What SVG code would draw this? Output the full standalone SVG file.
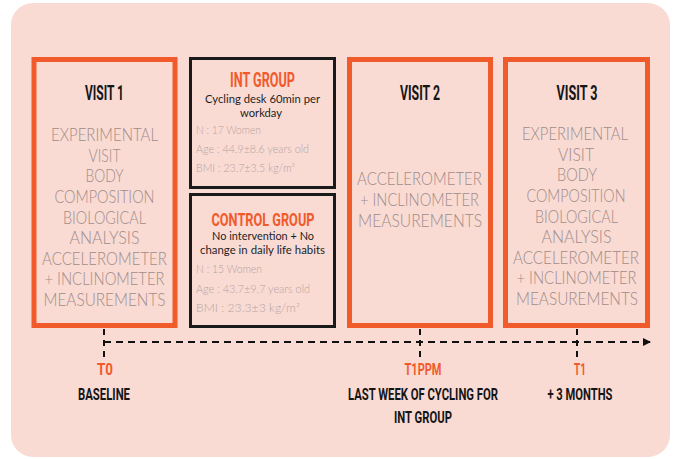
<svg xmlns="http://www.w3.org/2000/svg" width="675" height="459" viewBox="0 0 675 459">
<defs>
<style>
.bg{fill:#F9DBD4}
.vbox{fill:none;stroke:#F15A2B;stroke-width:5}
.gbox{fill:none;stroke:#1a1a1a;stroke-width:3}
.title{font-family:Roboto,"Liberation Sans",sans-serif;font-weight:700;fill:#151515;text-anchor:middle}
.otitle{font-family:Roboto,"Liberation Sans",sans-serif;font-weight:700;fill:#F15A2B;text-anchor:middle}
.light{font-family:Lato,"Open Sans",sans-serif;font-weight:300;font-size:18px;fill:#a08c88;text-anchor:middle}
.desc{font-family:Lato,"Open Sans",sans-serif;font-weight:400;font-size:11.5px;fill:#1e1e1e;text-anchor:middle}
.stat{font-family:Lato,"Open Sans",sans-serif;font-weight:300;font-size:11px;fill:#b5a39f}
.dash{stroke:#111;stroke-width:2;fill:none}
</style>
<marker id="arrow" viewBox="0 0 8 8" refX="7" refY="4" markerWidth="8" markerHeight="8" markerUnits="userSpaceOnUse" orient="auto">
<path d="M0,0 L8,4 L0,8 z" fill="#111"/>
</marker>
</defs>
<rect class="bg" x="11" y="3" width="659" height="454" rx="22"/>

<g id="visit1">
<rect class="vbox" x="34" y="59.5" width="141" height="266"/>
<text class="title" x="104.5" y="100" font-size="21" textLength="39" lengthAdjust="spacingAndGlyphs">VISIT 1</text>
<text class="light" x="104.5" y="141" textLength="107" lengthAdjust="spacingAndGlyphs">EXPERIMENTAL</text>
<text class="light" x="104.5" y="161.6" textLength="32" lengthAdjust="spacingAndGlyphs">VISIT</text>
<text class="light" x="104.5" y="182.3" textLength="38" lengthAdjust="spacingAndGlyphs">BODY</text>
<text class="light" x="104.5" y="202.9" textLength="100" lengthAdjust="spacingAndGlyphs">COMPOSITION</text>
<text class="light" x="104.5" y="223.5" textLength="83" lengthAdjust="spacingAndGlyphs">BIOLOGICAL</text>
<text class="light" x="104.5" y="244.1" textLength="70" lengthAdjust="spacingAndGlyphs">ANALYSIS</text>
<text class="light" x="104.5" y="264.8" textLength="125" lengthAdjust="spacingAndGlyphs">ACCELEROMETER</text>
<text class="light" x="104.5" y="285.4" textLength="120" lengthAdjust="spacingAndGlyphs">+ INCLINOMETER</text>
<text class="light" x="104.5" y="306" textLength="122" lengthAdjust="spacingAndGlyphs">MEASUREMENTS</text>
</g>

<g id="int-group">
<rect class="gbox" x="190.5" y="58.5" width="144" height="129"/>
<text class="otitle" x="262.5" y="86.5" font-size="19.5" textLength="65" lengthAdjust="spacingAndGlyphs">INT GROUP</text>
<text class="desc" x="262.5" y="103" textLength="115" lengthAdjust="spacingAndGlyphs">Cycling desk 60min per</text>
<text class="desc" x="261" y="116.5" textLength="42" lengthAdjust="spacingAndGlyphs">workday</text>
<text class="stat" x="196" y="133.5" textLength="65" lengthAdjust="spacingAndGlyphs">N : 17 Women</text>
<text class="stat" x="196" y="153" textLength="113" lengthAdjust="spacingAndGlyphs">Age : 44.9±8.6 years old</text>
<text class="stat" x="196" y="171.5" textLength="99" lengthAdjust="spacingAndGlyphs">BMI : 23.7±3.5 kg/m²</text>
</g>

<g id="control-group">
<rect class="gbox" x="190.5" y="194.5" width="144" height="132"/>
<text class="otitle" x="263" y="225.5" font-size="18" textLength="103" lengthAdjust="spacingAndGlyphs">CONTROL GROUP</text>
<text class="desc" x="263" y="239.5" textLength="102" lengthAdjust="spacingAndGlyphs">No intervention + No</text>
<text class="desc" x="262.5" y="253.5" textLength="125" lengthAdjust="spacingAndGlyphs">change in daily life habits</text>
<text class="stat" x="196" y="273.3" textLength="66" lengthAdjust="spacingAndGlyphs">N : 15 Women</text>
<text class="stat" x="196" y="292.7" textLength="114" lengthAdjust="spacingAndGlyphs">Age : 43.7±9.7 years old</text>
<text class="stat" x="196" y="311.7" textLength="104" lengthAdjust="spacingAndGlyphs">BMI : 23.3±3 kg/m²</text>
</g>

<g id="visit2">
<rect class="vbox" x="349.5" y="59.5" width="141" height="266"/>
<text class="title" x="420" y="100" font-size="21" textLength="40" lengthAdjust="spacingAndGlyphs">VISIT 2</text>
<text class="light" x="419.5" y="185" textLength="125" lengthAdjust="spacingAndGlyphs">ACCELEROMETER</text>
<text class="light" x="419.5" y="206" textLength="119" lengthAdjust="spacingAndGlyphs">+ INCLINOMETER</text>
<text class="light" x="420" y="227" textLength="124" lengthAdjust="spacingAndGlyphs">MEASUREMENTS</text>
</g>

<g id="visit3">
<rect class="vbox" x="505.5" y="59.5" width="142" height="266"/>
<text class="title" x="577" y="100" font-size="21" textLength="41" lengthAdjust="spacingAndGlyphs">VISIT 3</text>
<text class="light" x="575" y="140" textLength="106" lengthAdjust="spacingAndGlyphs">EXPERIMENTAL</text>
<text class="light" x="576" y="160.6" textLength="36" lengthAdjust="spacingAndGlyphs">VISIT</text>
<text class="light" x="577" y="181.3" textLength="40" lengthAdjust="spacingAndGlyphs">BODY</text>
<text class="light" x="576" y="201.9" textLength="99" lengthAdjust="spacingAndGlyphs">COMPOSITION</text>
<text class="light" x="576.5" y="222.5" textLength="83" lengthAdjust="spacingAndGlyphs">BIOLOGICAL</text>
<text class="light" x="576.5" y="243.1" textLength="70" lengthAdjust="spacingAndGlyphs">ANALYSIS</text>
<text class="light" x="576" y="263.8" textLength="126" lengthAdjust="spacingAndGlyphs">ACCELEROMETER</text>
<text class="light" x="576.5" y="284.4" textLength="120" lengthAdjust="spacingAndGlyphs">+ INCLINOMETER</text>
<text class="light" x="577" y="305" textLength="122" lengthAdjust="spacingAndGlyphs">MEASUREMENTS</text>
</g>

<g id="connectors">
<line class="dash" x1="104" y1="329" x2="104" y2="359" stroke-dasharray="6 5"/>
<line class="dash" x1="420" y1="329" x2="420" y2="359" stroke-dasharray="6 5"/>
<line class="dash" x1="577" y1="329" x2="577" y2="359" stroke-dasharray="6 5"/>
<line class="dash" x1="104" y1="342" x2="650" y2="342" stroke-dasharray="7 5" marker-end="url(#arrow)"/>
</g>

<g id="t0">
<text class="otitle" x="105" y="375" font-size="17" textLength="16" lengthAdjust="spacingAndGlyphs">T0</text>
<g transform="scale(0.7,1)">
<text class="title" x="148.57" y="400" font-size="16.5" textLength="74.29" lengthAdjust="spacingAndGlyphs">BASELINE</text>
</g>
</g>

<g id="t1ppm">
<text class="otitle" x="423" y="375" font-size="17" textLength="37" lengthAdjust="spacingAndGlyphs">T1PPM</text>
<g transform="scale(0.7,1)">
<text class="title" x="604.29" y="400" font-size="16.5" textLength="214.29" lengthAdjust="spacingAndGlyphs">LAST WEEK OF CYCLING FOR</text>
<text class="title" x="604.29" y="423.5" font-size="16.5" textLength="82.86" lengthAdjust="spacingAndGlyphs">INT GROUP</text>
</g>
</g>

<g id="t1">
<text class="otitle" x="580" y="375" font-size="17" textLength="12" lengthAdjust="spacingAndGlyphs">T1</text>
<g transform="scale(0.7,1)">
<text class="title" x="828.57" y="400" font-size="16.5" textLength="92.86" lengthAdjust="spacingAndGlyphs">+ 3 MONTHS</text>
</g>
</g>
</svg>
